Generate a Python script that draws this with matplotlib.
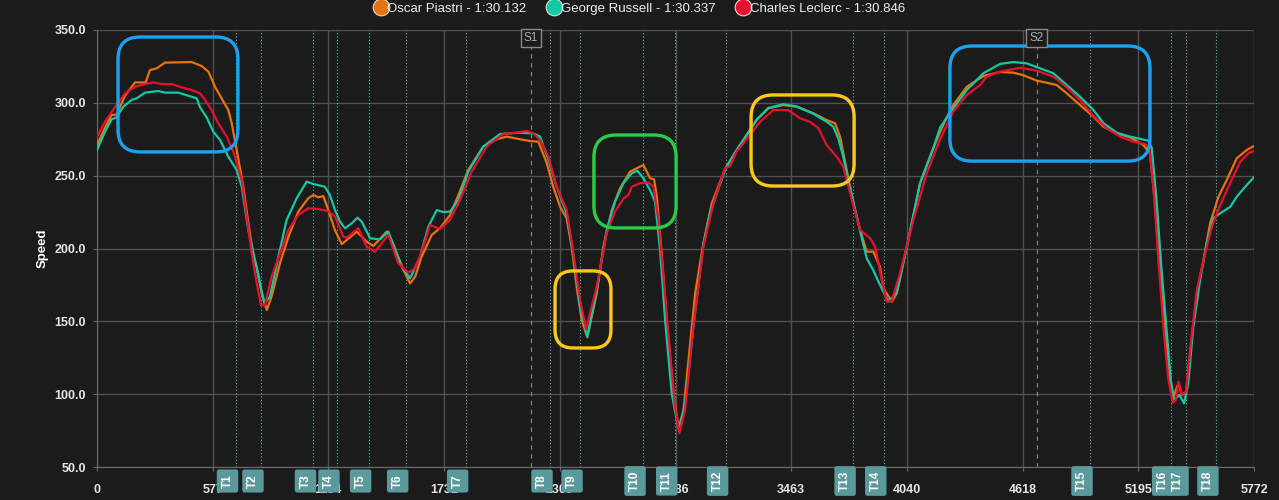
import matplotlib
matplotlib.use('Agg')
import matplotlib.pyplot as plt
import matplotlib.transforms as mtransforms
from matplotlib.patches import FancyBboxPatch
from matplotlib.lines import Line2D

plt.rcParams['font.family'] = ['Liberation Sans', 'DejaVu Sans']

# Speed traces (distance in m, speed in km/h)
piastri_dist = [0, 40, 73, 98, 140, 190, 243, 264, 298, 339, 472, 522, 556, 589, 622, 655, 672, 697, 730,
                755, 780, 797, 822, 847, 871, 913, 955, 1004, 1054, 1079, 1104, 1129, 1154, 1187, 1221,
                1296, 1345, 1379, 1445, 1470, 1529, 1562, 1587, 1620, 1670, 1711, 1761, 1803, 1852, 1927,
                1994, 2044, 2110, 2160, 2202, 2244, 2276, 2310, 2343, 2368, 2393, 2418, 2446, 2493, 2526,
                2568, 2609, 2659, 2709, 2726, 2759, 2779, 2793, 2817, 2842, 2876, 2901, 2926, 2951, 2984,
                3025, 3067, 3133, 3175, 3241, 3291, 3349, 3424, 3491, 3574, 3640, 3682, 3707, 3740, 3773,
                3807, 3840, 3873, 3906, 3923, 3965, 3990, 4040, 4106, 4172, 4206, 4239, 4272, 4339, 4422,
                4505, 4572, 4621, 4688, 4738, 4788, 4838, 4904, 4971, 5021, 5087, 5154, 5220, 5253, 5278,
                5303, 5328, 5353, 5370, 5395, 5412, 5433, 5462, 5487, 5520, 5553, 5595, 5636, 5686, 5736, 5772]
piastri_speed = [271, 283, 291.6, 292, 305, 314, 314, 322.5, 323.7, 327.6, 328, 325.3, 321.4, 311, 303, 295,
                 286, 267.6, 242.4, 217.5, 194.4, 187.5, 169, 157.8, 167, 190, 208, 225.3, 234.5, 236.7,
                 235.2, 236, 226.4, 212.7, 203, 211.6, 204.7, 201.7, 211.6, 205.8, 185.2, 176, 180.6,
                 194.4, 209.3, 213.9, 223, 236.7, 253.9, 270, 275, 276.8, 275, 273.8, 273.3, 258.5, 242.4,
                 228.7, 220.7, 201.2, 173.8, 150.9, 139, 169.2, 201.2, 226.4, 241.3, 252.7, 256.2, 257.3,
                 248.2, 247.5, 235.6, 196.7, 150.9, 100.6, 76.6, 89.1, 123.5, 169.2, 203.6, 231, 254.5,
                 264.2, 278, 288.2, 296.2, 298.5, 297.3, 292.8, 288.2, 286, 276.8, 253.9, 231, 212.7,
                 197.8, 197.8, 187.5, 172.7, 163.5, 169.2, 201.2, 244.8, 268.8, 280, 290, 298.5, 311,
                 318.4, 321.2, 320.7, 319, 315.2, 313.8, 312.2, 306.5, 298.5, 290.5, 283.6, 279, 276.3,
                 271, 265.3, 231, 183, 141.8, 107.5, 98.3, 107.5, 99.4, 101.7, 139.4, 169.2, 192.1, 217.3,
                 235.6, 247, 261.9, 267.6, 270.4]

russell_dist = [0, 40, 73, 98, 131, 173, 198, 240, 306, 339, 406, 456, 497, 514, 547, 580, 614, 655, 697, 722,
                755, 788, 813, 835, 863, 905, 946, 996, 1046, 1079, 1137, 1162, 1187, 1212, 1237, 1271, 1299,
                1321, 1362, 1412, 1453, 1487, 1520, 1562, 1612, 1653, 1695, 1728, 1761, 1803, 1852, 1927,
                2011, 2110, 2177, 2210, 2252, 2293, 2343, 2377, 2410, 2446, 2493, 2543, 2584, 2626, 2668,
                2696, 2726, 2759, 2784, 2809, 2834, 2867, 2892, 2905, 2934, 2975, 3025, 3058, 3133, 3175,
                3241, 3291, 3349, 3424, 3491, 3574, 3640, 3673, 3698, 3723, 3748, 3807, 3840, 3873, 3906,
                3948, 3990, 4040, 4106, 4172, 4206, 4272, 4339, 4422, 4505, 4572, 4638, 4705, 4771, 4838,
                4904, 4971, 5021, 5087, 5154, 5245, 5262, 5287, 5312, 5337, 5357, 5373, 5400, 5423, 5444,
                5469, 5503, 5536, 5569, 5603, 5654, 5686, 5736, 5772]
russell_speed = [267.6, 280.2, 288.7, 290, 297.3, 302, 303.1, 307, 308.1, 307, 307, 304.9, 303.1, 297, 290,
                 280.2, 274.5, 263, 253.9, 242.4, 212.7, 192.1, 176, 162.4, 167, 194.4, 219.6, 234.5, 245.9,
                 244.3, 242.4, 236.7, 226.4, 218.4, 213.9, 217.3, 221.2, 218.4, 207, 206.3, 211.6, 199,
                 187.5, 179.5, 194.4, 215, 226.4, 225, 225.3, 233.3, 252.7, 270, 278.6, 279.5, 279, 276.8,
                 260.8, 242.4, 224.1, 194.4, 160, 139.5, 171.5, 212.7, 232.1, 244.8, 251.6, 253.4, 248.2,
                 240.2, 232.1, 199, 150.9, 100.6, 82.3, 76.6, 93.7, 146, 203, 224, 254, 264, 278, 288.5,
                 296.5, 299, 297.5, 292.5, 287, 283.6, 275.6, 263, 247, 212, 193.2, 185, 175, 163.5, 170,
                 201, 244.8, 268.8, 283, 296.2, 308.8, 320.3, 326.7, 328, 327.1, 323.7, 320.3, 312.2,
                 304.2, 295.1, 286, 279.5, 276.8, 274, 269, 231, 183, 141.8, 109.7, 96, 99.4, 93.7, 107.5,
                 146.3, 178.4, 203.6, 220.7, 224.1, 228.7, 235.6, 243.6, 248.9]

leclerc_dist = [0, 40, 90, 140, 190, 240, 281, 323, 373, 423, 472, 514, 539, 572, 605, 647, 680, 722, 747, 772,
                797, 818, 838, 871, 913, 955, 1004, 1054, 1104, 1154, 1187, 1229, 1246, 1304, 1345, 1387, 1453,
                1503, 1553, 1587, 1628, 1661, 1711, 1761, 1811, 1869, 1944, 2027, 2094, 2144, 2177, 2210,
                2252, 2293, 2343, 2377, 2410, 2440, 2493, 2543, 2584, 2626, 2651, 2668, 2709, 2751, 2776,
                2801, 2826, 2859, 2884, 2905, 2934, 2975, 3025, 3075, 3133, 3158, 3191, 3258, 3308, 3374,
                3449, 3507, 3557, 3599, 3640, 3690, 3723, 3757, 3807, 3857, 3882, 3915, 3940, 3965, 4006,
                4073, 4139, 4206, 4272, 4339, 4405, 4439, 4505, 4605, 4688, 4771, 4838, 4904, 4971, 5038,
                5104, 5171, 5229, 5250, 5270, 5295, 5320, 5345, 5367, 5383, 5395, 5412, 5433, 5462, 5487,
                5520, 5562, 5604, 5645, 5703, 5744, 5772]
leclerc_speed = [276.8, 287, 297, 306.5, 311, 312.9, 314, 312.9, 312.9, 310.6, 308.8, 306.5, 302, 295, 286,
                 276.8, 266.5, 247, 221.8, 196.7, 176, 161.2, 161.2, 180.6, 196.7, 212.7, 223, 227.6, 227.1,
                 225.7, 221.8, 208, 207.4, 213.9, 201.2, 197.8, 209.3, 189.8, 183.4, 186.4, 201.2, 216.1,
                 213.4, 219.6, 233.3, 252.7, 270, 278.6, 279.5, 280.7, 279, 274.5, 263, 242.4, 226.4,
                 196.7, 164.6, 144.5, 173.8, 210.4, 225.3, 234.2, 236.7, 242.4, 244.8, 245.4, 242.4, 219.6,
                 180.6, 128, 91.4, 73.2, 89.1, 146.3, 201.2, 231, 255, 256.6, 266.5, 278, 287, 295, 295,
                 289.4, 287, 282.5, 271, 263, 256.2, 237.9, 212.7, 207, 201.2, 178.4, 163.5, 164.2, 183,
                 219.6, 251.6, 275, 294, 305.4, 312.2, 318, 321.4, 324.1, 322.1, 318, 310.6, 302, 291,
                 282.5, 276.8, 273.3, 271.7, 268.8, 242.4, 192.1, 146.3, 109.7, 94.2, 96, 108.6, 100,
                 101.7, 141.8, 171.5, 192.1, 215, 229.9, 242.4, 259.6, 265.3, 267.1]

drivers = ['Oscar Piastri - 1:30.132', 'George Russell - 1:30.337', 'Charles Leclerc - 1:30.846']
colors = ['#E8730C', '#12C9A4', '#E8102E']

turn_names = ['T1', 'T2', 'T3', 'T4', 'T5', 'T6', 'T7', 'T8', 'T9', 'T10', 'T11', 'T12', 'T13', 'T14',
              'T15', 'T16', 'T17', 'T18']
turn_dist = [691, 818, 1080, 1197, 1355, 1540, 1839, 2260, 2410, 2724, 2882, 3136, 3772, 3925, 4954,
             5356, 5433, 5582]
sector_names = ['S1', 'S2']
sector_dist = [2165, 4687]

xticks = [0, 577, 1154, 1731, 2309, 2886, 3463, 4040, 4618, 5195, 5772]

# highlight boxes: (x0, x1, y0, y1, colour)
highlights = [
    (105, 703, 266.3, 345.2, '#1BA1F2'),
    (2285, 2564, 131.7, 184.6, '#FFC81E'),
    (2479, 2889, 214.1, 277.9, '#2BCB45'),
    (3263, 3777, 242.9, 305.4, '#FFC81E'),
    (4255, 5253, 260.0, 339.0, '#1BA1F2'),
]

bg = '#1b1b1b'
fig = plt.figure(figsize=(12.79, 5.0), dpi=100, facecolor=bg)
ax = fig.add_axes([97 / 1279, 33 / 500, 1157 / 1279, 437 / 500], facecolor=bg)

ax.set_xlim(0, 5772)
ax.set_ylim(50, 350)

ax.grid(True, color='#505050', lw=1)
ax.set_axisbelow(True)
for s in ['top', 'right']:
    ax.spines[s].set_visible(False)
for s in ['left', 'bottom']:
    ax.spines[s].set_color('#6a6a6a')

ax.set_xticks(xticks)
ax.set_xticklabels([str(t) for t in xticks])
ax.set_yticks([50, 100, 150, 200, 250, 300, 350])
ax.set_yticklabels(['%.1f' % v for v in [50, 100, 150, 200, 250, 300, 350]])
ax.tick_params(colors='#6a6a6a', labelcolor='#e6e6e6', labelsize=9, length=3)
for lab in ax.get_xticklabels() + ax.get_yticklabels():
    lab.set_fontweight('bold')
ax.tick_params(axis='x', pad=9)
ax.tick_params(axis='y', pad=5)
ax.set_ylabel('Speed', color='white', fontsize=9.5, fontweight='bold', labelpad=4)

# turn markers
xb = mtransforms.blended_transform_factory(ax.transData, ax.transAxes)
for name, d in zip(turn_names, turn_dist):
    ax.axvline(d, color='#5fb8b8', lw=0.8, ls=(0, (1, 2)), zorder=1)
    ax.annotate(name, xy=(d, 0), xycoords=xb, xytext=(-8, -14), textcoords='offset pixels',
                rotation=90, ha='center', va='center', color='white', fontsize=8.5, fontweight='bold',
                annotation_clip=False, zorder=6,
                bbox=dict(boxstyle='round,pad=0.4,rounding_size=0.2', fc='#5a9a9c', ec='none'))

# sector markers
for name, d in zip(sector_names, sector_dist):
    ax.axvline(d, color='#8a8a8a', lw=0.8, ls=(0, (4, 4)), zorder=1)
    ax.annotate(name, xy=(d, 1), xycoords=xb, xytext=(0, -8), textcoords='offset pixels',
                ha='center', va='center', color='#b0b0b0', fontsize=8.5,
                annotation_clip=False, zorder=6,
                bbox=dict(boxstyle='square,pad=0.25', fc=bg, ec='#8a8a8a', lw=1))

# traces
ax.plot(piastri_dist, piastri_speed, color=colors[0], lw=1.6, zorder=3)
ax.plot(russell_dist, russell_speed, color=colors[1], lw=1.6, zorder=3)
ax.plot(leclerc_dist, leclerc_speed, color=colors[2], lw=1.6, zorder=3)

# highlight boxes with rounded corners
aspect = (300 / ax.bbox.height) / (5772 / ax.bbox.width)
for x0, x1, y0, y1, c in highlights:
    r = 110 if (x1 - x0) > 350 else 90
    box = FancyBboxPatch((x0, y0), x1 - x0, y1 - y0,
                         boxstyle='round,pad=0,rounding_size=%d' % r,
                         mutation_aspect=aspect, fc='none', ec=c, lw=2.4, zorder=5)
    ax.add_patch(box)

# legend
handles = [Line2D([], [], marker='o', ls='', markersize=12, mfc=c, mec='#dddddd', mew=0.8)
           for c in colors]
fig.legend(handles, drivers, loc='upper center', bbox_to_anchor=(0.5, 1.018), ncol=3, frameon=False,
           fontsize=9.5, labelcolor='#eeeeee', handletextpad=0.0, columnspacing=1.6, handlelength=1.0)

fig.savefig('out.png', dpi=100, facecolor=bg)
